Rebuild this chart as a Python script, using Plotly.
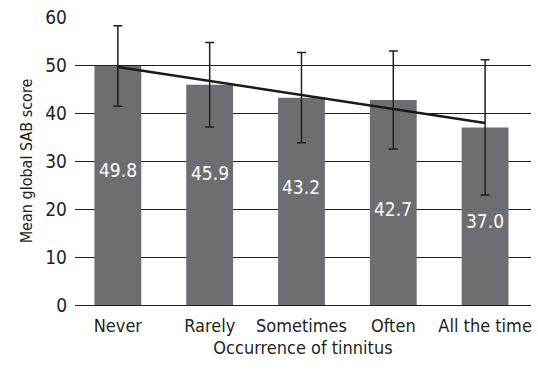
import plotly.graph_objects as go

categories = ["Never", "Rarely", "Sometimes", "Often", "All the time"]
means = [49.8, 45.9, 43.2, 42.7, 37.0]
errors = [8.4, 8.8, 9.4, 10.2, 14.1]
value_labels = ["49.8", "45.9", "43.2", "42.7", "37.0"]
trend_x = ["Never", "All the time"]
trend_y = [49.6, 37.9]
label_heights = [28.1, 27.6, 24.5, 20.1, 17.6]

FONT = "Liberation Sans Narrow, Arial Narrow, DejaVu Sans Condensed, sans-serif"
DARK = "#231f20"

fig = go.Figure()
fig.add_trace(go.Bar(
    x=categories, y=means, width=0.51,
    marker=dict(color="#6d6e71", line=dict(width=0)),
    error_y=dict(type="data", array=errors, visible=True, color=DARK, thickness=1.5, width=4.5),
    showlegend=False, hoverinfo="skip",
))
fig.add_trace(go.Scatter(
    x=trend_x, y=trend_y, mode="lines",
    line=dict(color="#1a1a1a", width=2.6), showlegend=False, hoverinfo="skip",
))
for c, t, h in zip(categories, value_labels, label_heights):
    fig.add_annotation(x=c, y=h, text=t, showarrow=False,
                       font=dict(family=FONT, size=19, color="white"))

fig.update_layout(
    width=538, height=372,
    margin=dict(l=75, r=6, t=15, b=67),
    paper_bgcolor="white", plot_bgcolor="white",
    font=dict(family=FONT, size=18, color=DARK),
    xaxis=dict(
        range=[-0.467, 4.5], showgrid=False, showline=False, ticks="",
        ticklabelstandoff=8,
        tickfont=dict(size=18, color=DARK),
        title=dict(text="Occurrence of tinnitus", font=dict(size=18, color=DARK), standoff=6),
    ),
    yaxis=dict(
        range=[0, 60], dtick=10, showgrid=True, gridcolor=DARK, gridwidth=1,
        zeroline=True, zerolinecolor=DARK, zerolinewidth=1.2,
        showline=False, ticks="", ticklabelstandoff=7,
        tickfont=dict(size=19, color=DARK),
        title=dict(text="Mean global SAB score", font=dict(size=16, color=DARK), standoff=8),
    ),
)
fig.write_html("out.html", config={"displayModeBar": False},
               post_script="document.body.style.margin='0';document.body.style.overflow='hidden';")
